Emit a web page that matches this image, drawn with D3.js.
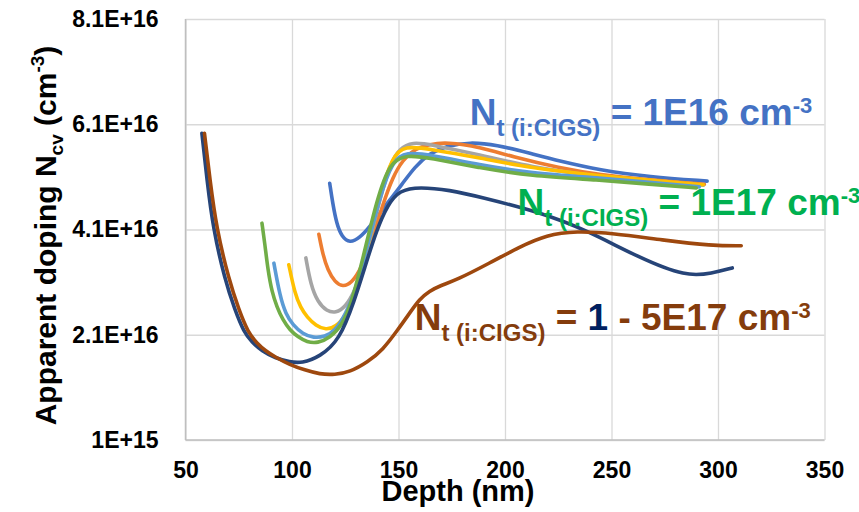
<!DOCTYPE html>
<html>
<head>
<meta charset="utf-8">
<script src="https://cdn.jsdelivr.net/npm/d3@7/dist/d3.min.js"></script>
<style>
  html, body { margin: 0; padding: 0; background: #ffffff; }
  svg { display: block; font-family: "Liberation Sans", Arial, sans-serif; }
</style>
</head>
<body>
<svg id="chart" width="859" height="512"></svg>
<script>
// ---------------- DATA (doping in units of 1E16 cm^-3, depth in nm) ----------------
const xTicks = [50, 100, 150, 200, 250, 300, 350];
const yTicks = [0.1, 2.1, 4.1, 6.1, 8.1];
const yTickLabels = ["1E+15", "2.1E+16", "4.1E+16", "6.1E+16", "8.1E+16"];

const seriesNames = ["1E16", "2E16", "4E16", "6E16", "8E16", "1E17", "1E17b", "5E17"];
const seriesColors = ["#4472C4", "#ED7D31", "#A5A5A5", "#FFC000", "#5B9BD5", "#70AD47", "#264478", "#9E480E"];

const depth1 = [117.7,119.1,121.0,123.4,127.1,131.8,136.5,141.2,145.9,151.5,157.6,164.6,172.6,183.4,196.0,211.5,225.6,244.3,267.8,294.9];
const dop1   = [4.98,4.60,4.20,3.96,3.84,3.94,4.15,4.41,4.66,4.95,5.29,5.55,5.69,5.76,5.71,5.55,5.40,5.23,5.10,5.02];

const depth2 = [112.6,114.5,116.8,120.1,123.8,128.0,132.7,137.4,142.6,147.3,152.0,157.6,164.6,172.6,188.1,203.5,225.6,244.3,267.8,293.6];
const dop2   = [4.01,3.62,3.33,3.10,3.01,3.08,3.37,3.90,4.57,5.10,5.42,5.63,5.72,5.76,5.67,5.48,5.27,5.14,5.04,4.96];

const depth3 = [106.5,108.8,112.1,116.3,120.5,125.2,129.5,133.2,137.4,141.6,145.9,150.6,156.7,164.6,188.1,211.5,244.3,267.8,293.1];
const dop3   = [3.56,3.05,2.72,2.55,2.51,2.63,2.93,3.37,4.05,4.72,5.33,5.65,5.76,5.72,5.52,5.29,5.10,5.02,4.94];

const depth4 = [98.5,101.3,104.1,107.0,111.2,115.9,120.6,125.3,129.5,135.1,141.2,147.3,152.9,164.6,188.1,211.5,244.3,267.8,293.1];
const dop4   = [3.43,2.89,2.61,2.44,2.27,2.19,2.25,2.46,2.86,3.67,4.76,5.50,5.69,5.63,5.46,5.27,5.12,5.04,4.95];

const depth5 = [91.5,94.3,97.1,100.4,105.1,110.2,115.4,120.1,125.2,129.9,135.1,141.2,147.3,153.8,164.6,188.1,211.5,244.3,267.8,291.2];
const dop5   = [3.46,2.84,2.49,2.29,2.11,2.04,2.06,2.17,2.49,2.95,3.71,4.72,5.42,5.57,5.52,5.33,5.17,5.08,5.00,4.91];

const depth6 = [85.9,87.3,88.7,90.6,92.9,95.7,99.0,102.7,107.0,112.1,117.7,123.4,128.0,133.7,139.8,145.9,153.8,164.6,188.1,211.5,244.3,267.8,289.8];
const dop6   = [4.22,3.81,3.33,2.91,2.63,2.38,2.19,2.06,1.96,1.94,2.04,2.27,2.70,3.62,4.66,5.38,5.52,5.46,5.27,5.12,5.04,4.96,4.89];

const depth7 = [57.7,60.1,62.9,68.5,73.2,77.4,81.2,85.9,92.0,99.0,104.6,113.0,122.4,129.4,134.1,139.7,144.9,150.5,159.9,174.0,188.1,216.2,238.2,263.1,285.1,297.3,306.7];
const dop7   = [5.93,5.04,4.13,3.14,2.57,2.15,1.96,1.79,1.66,1.58,1.56,1.68,2.00,2.76,3.37,4.09,4.57,4.85,4.91,4.85,4.72,4.43,4.09,3.56,3.20,3.27,3.37];

const depth8 = [58.9,61.5,64.5,70.4,75.1,79.3,83.5,87.7,92.0,99.0,106.0,113.0,120.1,127.1,135.5,142.6,149.6,155.2,159.9,164.6,169.3,177.3,192.7,206.8,219.5,233.6,250.4,273.9,297.3,310.9];
const dop8   = [5.93,5.04,4.13,3.14,2.57,2.15,1.94,1.79,1.68,1.53,1.43,1.35,1.34,1.39,1.58,1.81,2.19,2.51,2.78,2.93,3.03,3.14,3.46,3.77,4.00,4.07,4.03,3.90,3.79,3.79];

const depths = [depth1, depth2, depth3, depth4, depth5, depth6, depth7, depth8];
const dopings = [dop1, dop2, dop3, dop4, dop5, dop6, dop7, dop8];

// annotation anchors (data coordinates)
const labelDepths = [183.4, 205.9, 157.6];
const labelDopings = [6.086, 4.375, 2.19];

// ---------------- CHART ----------------
const svg = d3.select("#chart");
const plot = { left: 185.5, right: 824.5, top: 19, bottom: 440 };
const x = d3.scaleLinear().domain([50, 350]).range([plot.left, plot.right]);
const y = d3.scaleLinear().domain([0.1, 8.1]).range([plot.bottom, plot.top]);

const gridColor = "#D9D9D9";
const axisColor = "#BFBFBF";
const pw = plot.right - plot.left, ph = plot.bottom - plot.top;

// Y axis with gridlines
const yAxis = svg.append("g")
  .attr("transform", `translate(${plot.left},0)`)
  .call(d3.axisLeft(y).tickValues(yTicks).tickSizeInner(-pw).tickSizeOuter(0).tickPadding(27)
        .tickFormat((d, i) => yTickLabels[i]));
yAxis.select(".domain").remove();
yAxis.selectAll(".tick line").attr("stroke", gridColor).attr("stroke-width", 1.3);
yAxis.selectAll(".tick text").attr("font-size", 23).attr("font-weight", "bold").attr("fill", "#000")
  .attr("font-family", "'Liberation Sans', Arial, sans-serif");

// X axis with gridlines
const xAxis = svg.append("g")
  .attr("transform", `translate(0,${plot.bottom})`)
  .call(d3.axisBottom(x).tickValues(xTicks).tickSizeInner(-ph).tickSizeOuter(0).tickPadding(22)
        .tickFormat(d3.format("d")));
xAxis.select(".domain").remove();
xAxis.selectAll(".tick line").attr("stroke", gridColor).attr("stroke-width", 1.3);
xAxis.selectAll(".tick text").attr("font-size", 23).attr("font-weight", "bold").attr("fill", "#000")
  .attr("font-family", "'Liberation Sans', Arial, sans-serif");

// axis lines
svg.append("line").attr("x1", plot.left).attr("x2", plot.left).attr("y1", plot.top).attr("y2", plot.bottom)
  .attr("stroke", axisColor).attr("stroke-width", 1.5);
svg.append("line").attr("x1", plot.left).attr("x2", plot.right).attr("y1", plot.bottom).attr("y2", plot.bottom)
  .attr("stroke", axisColor).attr("stroke-width", 1.5);

// Lines (smoothed like the spreadsheet's "smoothed line")
const line = d3.line().x(d => x(d[0])).y(d => y(d[1])).curve(d3.curveBasis);
depths.forEach((dArr, i) => {
  const pts = dArr.map((dv, j) => [dv, dopings[i][j]]);
  svg.append("path").datum(pts)
    .attr("d", line)
    .attr("fill", "none")
    .attr("stroke", seriesColors[i])
    .attr("stroke-width", 3.6)
    .attr("stroke-linecap", "round")
    .attr("stroke-linejoin", "round");
});

// Axis titles
const yt = svg.append("text")
  .attr("transform", `translate(56,235.5) rotate(-90)`)
  .attr("text-anchor", "middle").attr("font-size", 30).attr("font-weight", "bold").attr("fill", "#000");
yt.append("tspan").text("Apparent doping N");
yt.append("tspan").attr("font-size", 19).attr("dy", 7).text("cv");
yt.append("tspan").attr("dy", -7).text(" (cm");
yt.append("tspan").attr("font-size", 19).attr("dy", -12).text("-3");
yt.append("tspan").attr("dy", 12).text(")");

svg.append("text")
  .attr("x", 458).attr("y", 501)
  .attr("text-anchor", "middle").attr("font-size", 29).attr("font-weight", "bold").attr("fill", "#000")
  .text("Depth (nm)");

// Annotations
function annot(idx, color, parts) {
  const t = svg.append("text")
    .attr("x", x(labelDepths[idx])).attr("y", y(labelDopings[idx]))
    .attr("font-weight", "bold").attr("font-size", 37).attr("fill", color);
  parts.forEach(p => {
    const s = t.append("tspan").text(p.t);
    if (p.size) s.attr("font-size", p.size);
    if (p.dy) s.attr("dy", p.dy);
    if (p.fill) s.attr("fill", p.fill);
  });
}
annot(0, "#4472C4", [
  { t: "N" }, { t: "t (i:CIGS)", size: 24, dy: 11 }, { t: " = 1E16 cm", dy: -11 }, { t: "-3", size: 22, dy: -12 }
]);
annot(1, "#00B050", [
  { t: "N" }, { t: "t (i:CIGS)", size: 24, dy: 11 }, { t: " = 1E17 cm", dy: -11 }, { t: "-3", size: 22, dy: -12 }
]);
annot(2, "#843C0C", [
  { t: "N" }, { t: "t (i:CIGS)", size: 24, dy: 11 }, { t: " = ", dy: -11 }, { t: "1", fill: "#002060" },
  { t: " - 5E17 cm" }, { t: "-3", size: 22, dy: -12 }
]);
</script>
</body>
</html>
